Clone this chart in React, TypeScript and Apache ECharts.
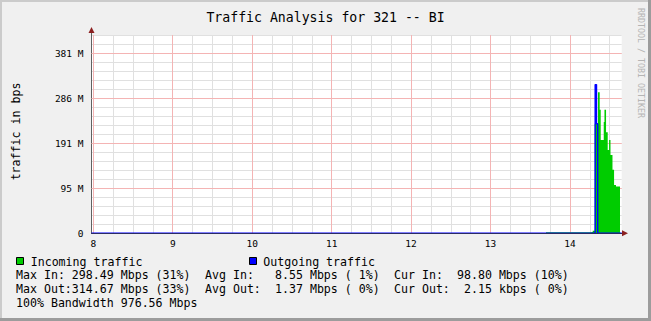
import React, { useEffect, useRef } from 'react';
import * as echarts from 'echarts';

// ---- data (hours of day, bits per second) ----
const hourTicks = [8, 9, 10, 11, 12, 13, 14];
const quarterTicks = [
  8.25, 8.5, 8.75, 9.25, 9.5, 9.75, 10.25, 10.5, 10.75, 11.25, 11.5, 11.75,
  12.25, 12.5, 12.75, 13.25, 13.5, 13.75, 14.25, 14.5,
];
const majorYTicks = [100e6, 200e6, 300e6, 400e6];

const inTimes = [
  7.9773, 13.698, 14.264, 14.286, 14.311, 14.353, 14.374, 14.387, 14.425, 14.434,
  14.454, 14.475, 14.492, 14.51, 14.535, 14.555, 14.579, 14.63, 14.651,
];
const inValues = [
  0, 2.5e6, 3e6, 5.8e6, 243e6, 313e6, 274e6, 207e6, 247e6, 274e6,
  224e6, 185e6, 207e6, 174e6, 141e6, 107e6, 103.6e6, 0, 0,
];

const outTimes = [7.9773, 14.317, 14.334, 14.349, 14.651];
const outValues = [0, 330e6, 243e6, 2200, 2200];

const legendLines = [
  'Max In: 298.49 Mbps (31%)  Avg In:   8.55 Mbps ( 1%)  Cur In:  98.80 Mbps (10%)',
  'Max Out:314.67 Mbps (33%)  Avg Out:  1.37 Mbps ( 0%)  Cur Out:  2.15 kbps ( 0%)',
  '100% Bandwidth 976.56 Mbps',
];

const X_MIN = 7.9773;
const X_MAX = 14.651;
const Y_MAX = 440e6;
const MONO = '"DejaVu Sans Mono", "Liberation Mono", monospace';
const RED = '#f4b4b4';
const MINOR = '#e0e0e0';

function textSegments(line: string, x0: number, y: number, cw: number) {
  const out: any[] = [];
  const re = /\S+(?: \S+)*/g;
  let m: RegExpExecArray | null;
  while ((m = re.exec(line)) !== null) {
    out.push({
      type: 'text',
      x: x0 + m.index * cw,
      y,
      silent: true,
      style: {
        text: m[0],
        fontFamily: MONO,
        fontSize: 11.6,
        fill: '#000',
        align: 'left',
        verticalAlign: 'middle',
      },
    });
  }
  return out;
}

export default function App() {
  const ref = useRef<HTMLDivElement>(null);

  useEffect(() => {
    if (!ref.current) return;
    const chart = echarts.init(ref.current, undefined, { renderer: 'svg' });

    const inData = inTimes.map((t, i) => [t, inValues[i]]);
    const outData = outTimes.map((t, i) => [t, outValues[i]]);

    const gridLines = [
      ...quarterTicks.map((v) => ({ xAxis: v, lineStyle: { color: MINOR, width: 1, type: 'solid' } })),
      ...hourTicks.map((v) => ({ xAxis: v, lineStyle: { color: RED, width: 1, type: 'solid' } })),
      ...majorYTicks.map((v) => ({ yAxis: v, lineStyle: { color: RED, width: 1, type: 'solid' } })),
    ];

    const graphic: any[] = [
      // frame
      { type: 'rect', shape: { x: 0, y: 0, width: 651, height: 2 }, style: { fill: '#cbcbcb' }, silent: true },
      { type: 'rect', shape: { x: 0, y: 0, width: 2, height: 321 }, style: { fill: '#cbcbcb' }, silent: true },
      { type: 'rect', shape: { x: 648, y: 0, width: 3, height: 321 }, style: { fill: '#9c9c9c' }, silent: true },
      { type: 'rect', shape: { x: 0, y: 318, width: 651, height: 3 }, style: { fill: '#9c9c9c' }, silent: true },
      // title
      {
        type: 'text', x: 325.5, y: 17, silent: true,
        style: { text: 'Traffic Analysis for 321 -- BI', fontFamily: MONO, fontSize: 13.2, fill: '#000', align: 'center', verticalAlign: 'middle' },
      },
      // y axis title
      {
        type: 'text', x: 15.5, y: 131.5, rotation: Math.PI / 2, silent: true,
        style: { text: 'traffic in bps', fontFamily: MONO, fontSize: 11.6, fill: '#000', align: 'center', verticalAlign: 'middle' },
      },
      // watermark
      {
        type: 'text', x: 640.5, y: 63, rotation: -Math.PI / 2, silent: true,
        style: { text: 'RRDTOOL / TOBI OETIKER', fontFamily: MONO, fontSize: 8.3, fill: '#b4b4b4', align: 'center', verticalAlign: 'middle' },
      },
      // arrows
      { type: 'line', shape: { x1: 91.5, y1: 35, x2: 91.5, y2: 30 }, style: { stroke: '#606060', lineWidth: 1 }, silent: true },
      { type: 'polygon', shape: { points: [[88.5, 33], [91.5, 27], [94.5, 33]] }, style: { fill: '#8c2020' }, silent: true },
      { type: 'polygon', shape: { points: [[622, 230.3], [628, 233.3], [622, 236.3]] }, style: { fill: '#8c2020' }, silent: true },
      // legend
      { type: 'rect', shape: { x: 16.5, y: 257.5, width: 7, height: 7 }, style: { fill: '#00cc00', stroke: '#000', lineWidth: 1 }, silent: true },
      {
        type: 'text', x: 30.7, y: 261.5, silent: true,
        style: { text: 'Incoming traffic', fontFamily: MONO, fontSize: 11.6, fill: '#000', align: 'left', verticalAlign: 'middle' },
      },
      { type: 'rect', shape: { x: 249.5, y: 257.5, width: 7, height: 7 }, style: { fill: '#0000ff', stroke: '#000', lineWidth: 1 }, silent: true },
      {
        type: 'text', x: 263.3, y: 261.5, silent: true,
        style: { text: 'Outgoing traffic', fontFamily: MONO, fontSize: 11.6, fill: '#000', align: 'left', verticalAlign: 'middle' },
      },
      ...textSegments(legendLines[0], 16, 275, 7.0),
      ...textSegments(legendLines[1], 16, 289, 7.0),
      ...textSegments(legendLines[2], 16, 302.7, 7.0),
    ];

    const isInt = (v: number) => Math.abs(v - Math.round(v)) < 1e-6;

    chart.setOption({
      animation: false,
      backgroundColor: '#f0f0f0',
      grid: { left: 91.5, top: 35, right: 29.3, bottom: 87.7, containLabel: false, show: true, backgroundColor: '#ffffff', borderWidth: 0 },
      xAxis: {
        type: 'value',
        min: X_MIN,
        max: X_MAX,
        z: 5,
        axisLine: { show: true, onZero: false, lineStyle: { color: '#2a2a66', width: 1 } },
        axisTick: { show: false },
        splitLine: { show: false },
        axisLabel: {
          customValues: hourTicks,
          formatter: (v: number) => (isInt(v) ? String(Math.round(v)) : ''),
          fontFamily: MONO,
          fontSize: 9.5,
          color: '#000',
          margin: 5,
        },
      },
      yAxis: {
        type: 'value',
        min: 0,
        max: Y_MAX,
        interval: 20e6,
        axisLine: { show: true, lineStyle: { color: '#606060', width: 1 } },
        axisTick: { show: false },
        splitLine: { show: true, lineStyle: { color: MINOR, width: 1 } },
        axisLabel: {
          formatter: (v: number) => {
            const k = v / 1e8;
            if (!isInt(k)) return '';
            if (v === 0) return '0';
            return Math.round(v / 1048576) + ' M';
          },
          fontFamily: MONO,
          fontSize: 9.5,
          color: '#000',
          margin: 8,
          showMaxLabel: false,
        },
      },
      series: [
        {
          type: 'line',
          z: 1,
          silent: true,
          data: [[X_MIN, 0]],
          symbol: 'none',
          lineStyle: { width: 0, opacity: 0 },
          markLine: {
            z: 1,
            silent: true,
            symbol: ['none', 'none'],
            label: { show: false },
            animation: false,
            data: gridLines,
          },
        },
        {
          type: 'line',
          name: 'Incoming traffic',
          z: 2,
          step: 'end',
          data: inData,
          symbol: 'none',
          silent: true,
          lineStyle: { width: 0 },
          areaStyle: { color: '#00cc00', opacity: 1 },
        },
        {
          type: 'line',
          name: 'Outgoing traffic',
          z: 3,
          step: 'end',
          data: outData,
          symbol: 'none',
          silent: true,
          lineStyle: { width: 1.4, color: '#0000ff' },
        },
      ],
      graphic,
    });

    return () => chart.dispose();
  }, []);

  return (
    <div
      ref={ref}
      style={{ position: 'fixed', left: 0, top: 0, width: 651, height: 321 }}
    />
  );
}
